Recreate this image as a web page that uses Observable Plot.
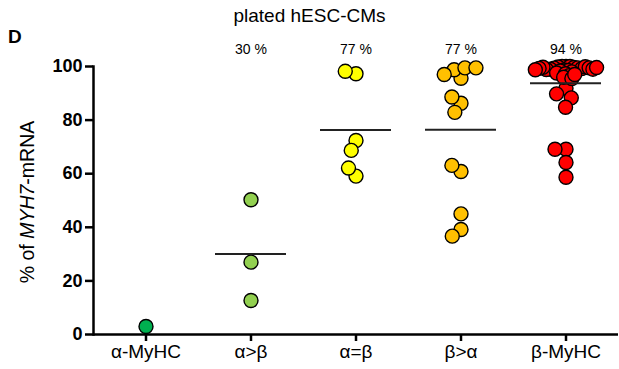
<!DOCTYPE html>
<html>
<head>
<meta charset="utf-8">
<script src="https://cdn.jsdelivr.net/npm/d3@7"></script>
<script src="https://cdn.jsdelivr.net/npm/@observablehq/plot@0.6"></script>
<style>
  body { margin: 0; background: #fff; font-family: "Liberation Sans", Arial, sans-serif; }
  #wrap { position: relative; width: 619px; height: 369px; }
  #title { position: absolute; left: 0; width: 619px; top: 5px; text-align: center; font-size: 19px; }
  #panel { position: absolute; left: 8px; top: 26px; font-size: 19px; font-weight: bold; }
  #chart { position: absolute; left: 0; top: 0; }
</style>
</head>
<body>
<div id="wrap">
  <div id="chart"></div>
  <div id="title">plated hESC-CMs</div>
  <div id="panel">D</div>
</div>
<script>
const categories = ["α-MyHC", "α>β", "α=β", "β>α", "β-MyHC"];
const colors = ["#00b050", "#92d050", "#ffff00", "#ffc000", "#ff0000"];
const meanLabels = ["", "30 %", "77 %", "77 %", "94 %"];
const yTicks = [0, 20, 40, 60, 80, 100];

const alphaMyHC = [3.0];
const alphaGtBeta = [50.3, 27.0, 12.7];
const alphaEqBeta = [97.3, 98.2, 72.4, 68.7, 59.1, 62.1];
const betaGtAlpha = [95.6, 98.8, 99.5, 99.5, 97.0, 86.3, 82.9, 88.6, 60.8, 63.1, 45.0, 39.2, 36.7];
const betaMyHC = [
  100, 100, 100, 99.8, 99.6, 99.5, 99.4, 99.2, 99.0, 98.9, 98.7, 98.5, 98.3, 98.0,
  97.6, 97.3, 96.6, 96.0, 95.5, 99.9, 99.7, 99.5, 99.3, 99.0, 98.8, 99.6, 97.0,
  91.9, 89.8, 88.3, 84.8, 69.1, 69.1, 64.2, 58.7
];

const valuesByCategory = [alphaMyHC, alphaGtBeta, alphaEqBeta, betaGtAlpha, betaMyHC];
const data = categories.flatMap((cat, i) => valuesByCategory[i].map(value => ({cat, value})));
// the crowded top of the β-MyHC column is packed tighter (overlapping), as in the original
const isCrowded = d => d.cat === "β-MyHC" && d.value >= 95;
const sparse = data.filter(d => !isCrowded(d));
const dense = data.filter(isCrowded);
const withMean = data.filter(d => d.cat !== "α-MyHC");
const labelRows = categories.map((cat, i) => ({cat, label: meanLabels[i]}));

const dotStyle = {fx: "cat", y: "value", r: 7, fill: "cat", stroke: "#000", strokeWidth: 1.4};

const plot = Plot.plot({
  width: 619,
  height: 369,
  marginTop: 66,
  marginBottom: 35,
  marginLeft: 91,
  marginRight: 0,
  y: {domain: [0, 100]},
  fx: {domain: categories, padding: 0},
  color: {domain: categories, range: colors},
  style: {fontFamily: "'Liberation Sans', Arial, sans-serif", color: "#000", background: "#fff"},
  marks: [
    Plot.ruleY([0], {stroke: "#000", strokeWidth: 2.5}),
    Plot.frame({anchor: "left", facetAnchor: "left", stroke: "#000", strokeWidth: 2.5}),
    Plot.axisY({ticks: yTicks, tickSize: 8, tickPadding: 3, fontSize: 18, fontWeight: "bold", strokeWidth: 2.5, label: null}),
    Plot.axisFx({anchor: "bottom", tickSize: 7, tickPadding: 3, fontSize: 19, strokeWidth: 2.5, label: null}),
    Plot.dot(sparse, Plot.dodgeX({anchor: "middle", padding: 0, r: 5.5}, dotStyle)),
    Plot.dot(dense, Plot.dodgeX({anchor: "middle", padding: 0, r: 2}, dotStyle)),
    Plot.ruleY(withMean, Plot.groupZ({y: "mean"}, {fx: "cat", y: "value", insetLeft: 17, insetRight: 17, stroke: "#222", strokeWidth: 2})),
    Plot.text(labelRows, {fx: "cat", text: "label", frameAnchor: "top", dy: -22, fontSize: 14})
  ]
});

document.getElementById("chart").appendChild(plot);

// y-axis title with italic gene name
const svg = d3.select(plot);
const t = svg.append("text")
  .attr("transform", "translate(34,202) rotate(-90)")
  .attr("text-anchor", "middle")
  .attr("font-size", 19.5)
  .attr("font-family", "'Liberation Sans', Arial, sans-serif")
  .attr("fill", "#000");
t.append("tspan").text("% of ");
t.append("tspan").attr("font-style", "italic").text("MYH7");
t.append("tspan").text("-mRNA");
</script>
</body>
</html>
